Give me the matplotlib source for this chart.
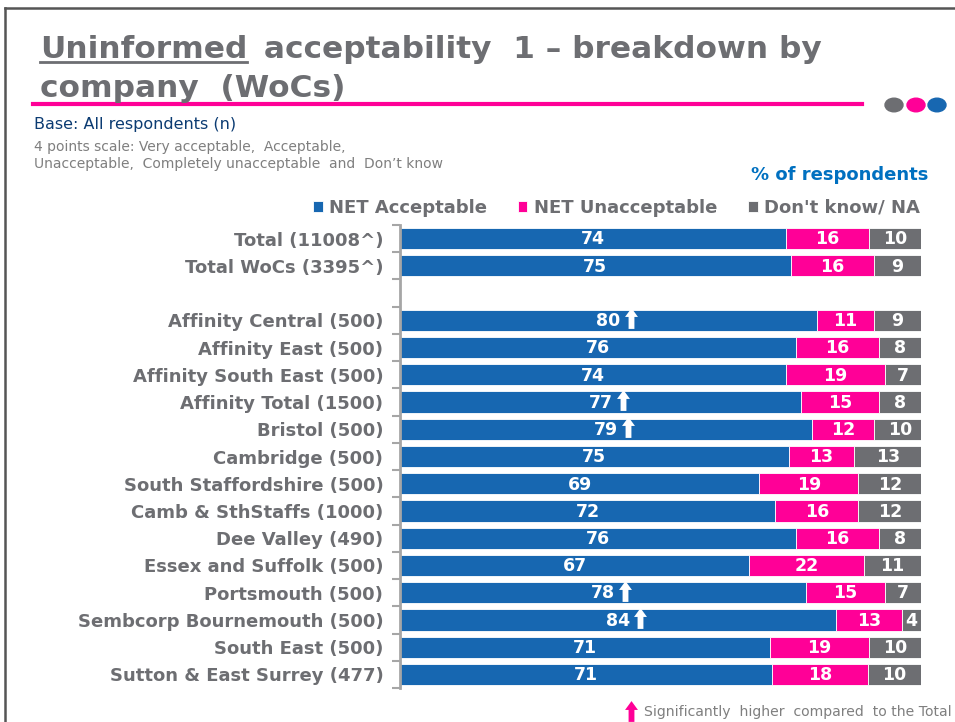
import numpy as np
import matplotlib.pyplot as plt
import matplotlib.transforms as mtransforms
from matplotlib.path import Path
from matplotlib.patches import Circle
from matplotlib.lines import Line2D

#==============================================================================
#DATA
#==============================================================================

companies = ['Total (11008^)', 'Total WoCs (3395^)', '',
             'Affinity Central (500)', 'Affinity East (500)',
             'Affinity South East (500)', 'Affinity Total (1500)',
             'Bristol (500)', 'Cambridge (500)', 'South Staffordshire (500)',
             'Camb & SthStaffs (1000)', 'Dee Valley (490)',
             'Essex and Suffolk (500)', 'Portsmouth (500)',
             'Sembcorp Bournemouth (500)', 'South East (500)',
             'Sutton & East Surrey (477)']
net_acceptable = [74, 75, np.nan, 80, 76, 74, 77, 79, 74.6, 69, 72, 76, 67, 78, 83.6, 71, 71.4]
net_unacceptable = [16, 16, np.nan, 11, 16, 19, 15, 12, 12.6, 19, 16, 16, 22, 15, 12.8, 19, 18.4]
dont_know = [10, 9, np.nan, 9, 8, 7, 8, 10, 12.8, 12, 12, 8, 11, 7, 3.6, 10, 10.2]
sig_higher = [False, False, False, True, False, False, True, True, False,
              False, False, False, False, True, True, False, False]
series_names = ['NET Acceptable', 'NET Unacceptable', "Don't know/ NA"]

#==============================================================================
#SETTINGS
#==============================================================================

blue = '#1767B1'
pink = '#FF0097'
grey = '#6D6E72'
title_grey = '#6D6E72'
navy = '#0B3B72'
font = 'DejaVu Sans'
plt.rcParams['font.family'] = font

#==============================================================================
#PLOT
#==============================================================================

f = plt.figure(figsize=(9.55, 7.22), dpi=100)
ax = f.add_axes([400/955, 1-688/722, 521/955, 463/722])

y = np.arange(len(companies))
acc = np.array(net_acceptable, dtype=float)
una = np.array(net_unacceptable, dtype=float)
dk = np.array(dont_know, dtype=float)

h = 0.78
ax.barh(y, acc, height=h, color=blue, edgecolor='white', linewidth=0.6, label=series_names[0])
ax.barh(y, una, left=acc, height=h, color=pink, edgecolor='white', linewidth=0.6, label=series_names[1])
ax.barh(y, dk, left=acc+una, height=h, color=grey, edgecolor='white', linewidth=0.6, label=series_names[2])

# up arrow marker
arrow = Path([(-0.28, -1), (0.28, -1), (0.28, 0.15), (0.62, 0.15), (0, 1),
              (-0.62, 0.15), (-0.28, 0.15), (-0.28, -1)],
             [Path.MOVETO] + [Path.LINETO]*6 + [Path.CLOSEPOLY])

for i in range(len(companies)):
    if np.isnan(acc[i]):
        continue
    for left, val in [(0, acc[i]), (acc[i], una[i]), (acc[i]+una[i], dk[i])]:
        ax.text(left + val/2, y[i] + 0.03, '%.0f' % val, ha='center', va='center',
                color='white', fontsize=12.5, fontweight='bold')
    if sig_higher[i]:
        tr = mtransforms.offset_copy(ax.transData, fig=f, x=16, y=1.5, units='points')
        ax.plot(acc[i]/2, y[i], marker=arrow, markersize=15, color='white',
                markeredgewidth=0, transform=tr)

ax.set_xlim(0, 100)
ax.set_ylim(len(companies)-0.5, -0.5)
ax.set_yticks(y)
ax.set_yticklabels(companies, fontsize=13, fontweight='bold', color=title_grey)
ax.set_yticks(np.arange(-0.5, len(companies)), minor=True)
ax.tick_params(axis='y', which='major', length=0, pad=12)
ax.tick_params(axis='y', which='minor', length=6, width=1.5, color='#A6A6A6')
ax.set_xticks([])
for s in ['top', 'right', 'bottom']:
    ax.spines[s].set_visible(False)
ax.spines['left'].set_color('#A6A6A6')
ax.spines['left'].set_linewidth(2)

#=============================================================================
#LEGEND
#=============================================================================

leg = ax.legend(loc='center right', bbox_to_anchor=(920/955, 1-208/722),
                bbox_transform=f.transFigure, ncol=3, frameon=False,
                handlelength=0.55, handleheight=0.55, handletextpad=0.35,
                columnspacing=1.7, borderpad=0, borderaxespad=0,
                prop={'family': font, 'weight': 'bold', 'size': 13})
for t in leg.get_texts():
    t.set_color(title_grey)

#=============================================================================
#TITLE AND NOTES
#=============================================================================

f.add_artist(Line2D([5/955, 5/955], [0, 1-8/722], color='#555555', linewidth=1.8))
f.add_artist(Line2D([5/955, 1], [1-8/722, 1-8/722], color='#555555', linewidth=1.8))

t1 = f.text(40/955, 1-58/722, 'Uninformed', fontsize=22.5, fontweight='bold', color=title_grey)
f.canvas.draw()
bb = t1.get_window_extent().transformed(f.transFigure.inverted())
f.text(bb.x1 + 6/955, 1-58/722, ' acceptability  1 – breakdown by', fontsize=22.5,
       fontweight='bold', color=title_grey)
f.add_artist(Line2D([bb.x0, bb.x1], [1-62/722, 1-62/722], color=title_grey, linewidth=2))
f.text(40/955, 1-97/722, 'company  (WoCs)', fontsize=22.5, fontweight='bold', color=title_grey)

f.add_artist(Line2D([33/955, 862/955], [1-104/722, 1-104/722], color=pink, linewidth=3))
for cx, c in [(894, grey), (916, pink), (937, blue)]:
    f.add_artist(Circle((cx/955, 1-105/722), 9/955, color=c, transform=f.transFigure))

f.text(34/955, 1-124/722, 'Base: All respondents (n)', fontsize=11.5, color=navy, va='center')
f.text(34/955, 1-147/722, '4 points scale: Very acceptable,  Acceptable,', fontsize=10,
       color='#7F7F7F', va='center')
f.text(34/955, 1-164/722, 'Unacceptable,  Completely unacceptable  and  Don\u2019t know',
       fontsize=10, color='#7F7F7F', va='center')
f.text(928/955, 1-175/722, '% of respondents', fontsize=13, fontweight='bold',
       color='#0070C0', ha='right', va='center')

f.add_artist(Line2D([631/955], [1-711/722], marker=arrow, markersize=15, color=pink,
                    markeredgewidth=0, transform=f.transFigure))
f.text(644/955, 1-712/722, 'Significantly  higher  compared  to the Total', fontsize=10.1,
       color='#7F7F7F', va='center')

f.savefig('out.png', dpi=100)
